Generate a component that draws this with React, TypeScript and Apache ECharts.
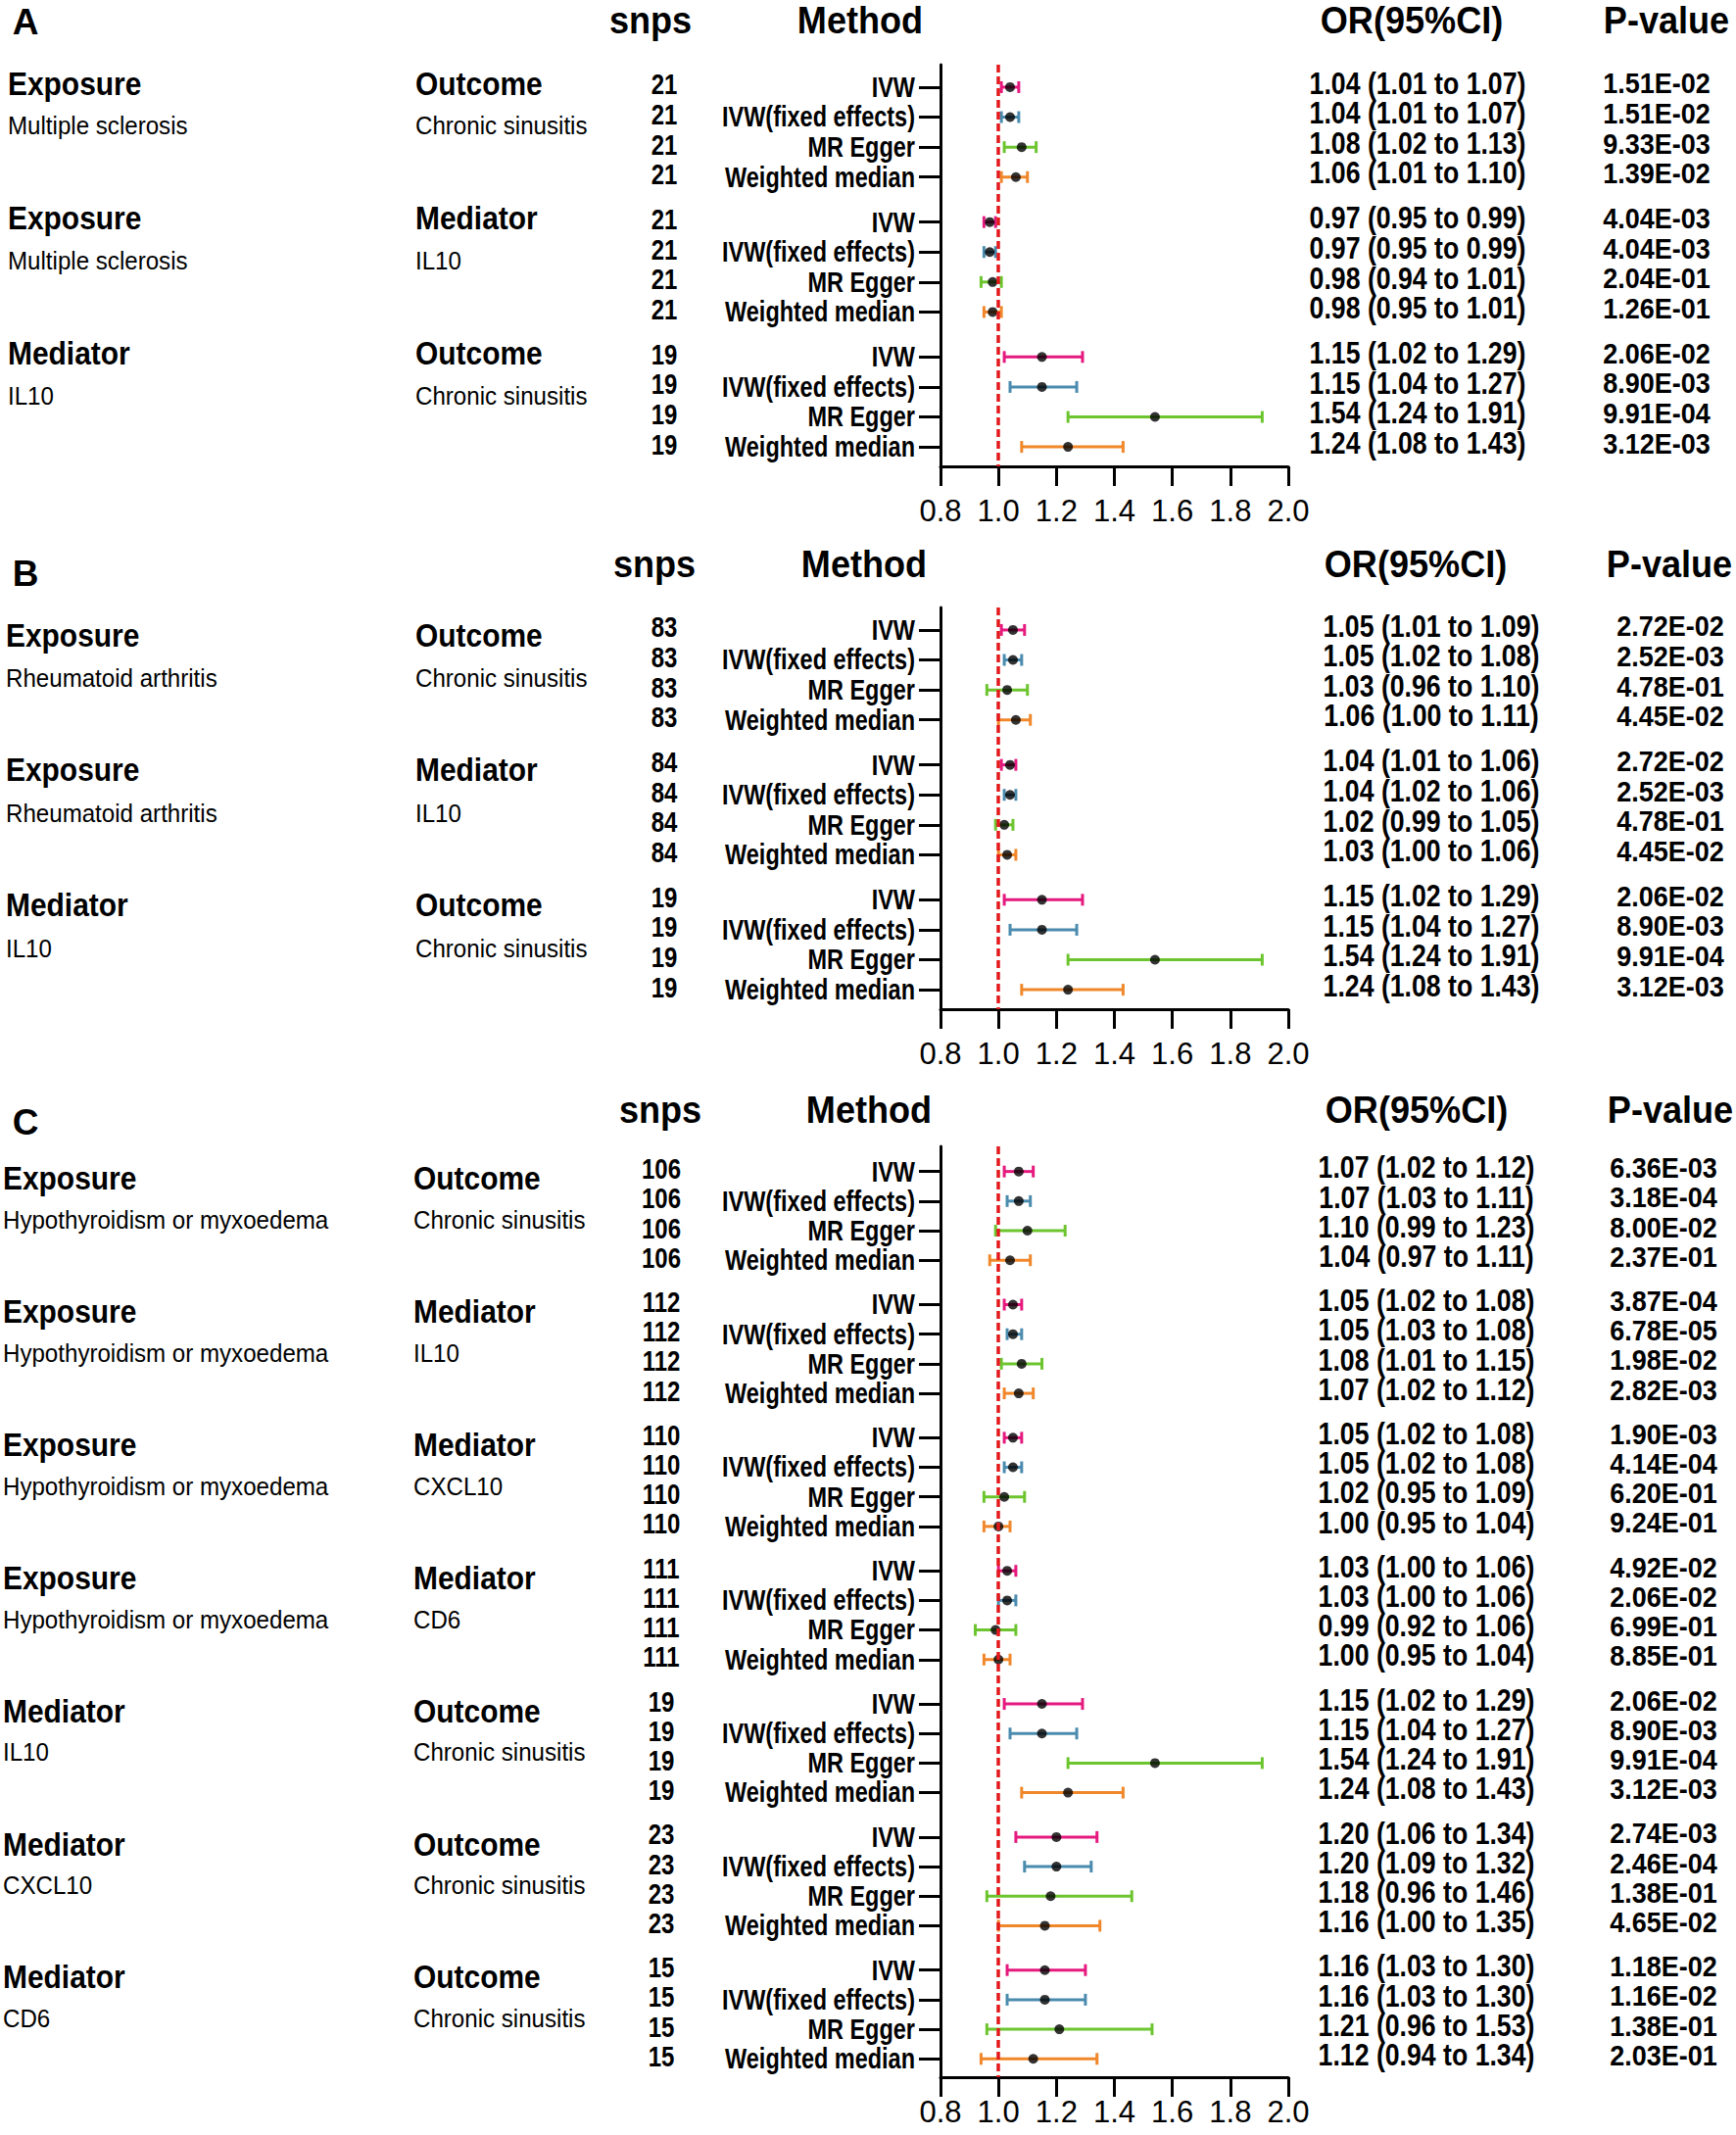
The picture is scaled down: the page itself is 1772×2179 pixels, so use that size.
import React, { useEffect, useRef } from "react";
import * as echarts from "echarts";

// ---------- data ----------
const methods = ["IVW", "IVW(fixed effects)", "MR Egger", "Weighted median"];
const methodColors = ["#E5197E", "#4A8BAE", "#6CC52E", "#F0872A"];
const headerTexts = ["snps", "Method", "OR(95%CI)", "P-value"];
const xMin = 0.8;
const xMax = 2.0;
const xStep = 0.2;

// Panel A
const aPairs = [
  ["Exposure", "Multiple sclerosis", "Outcome", "Chronic sinusitis"],
  ["Exposure", "Multiple sclerosis", "Mediator", "IL10"],
  ["Mediator", "IL10", "Outcome", "Chronic sinusitis"],
];
const aSnps = [21, 21, 19];
const aOR = [[1.04, 1.04, 1.08, 1.06], [0.97, 0.97, 0.98, 0.98], [1.15, 1.15, 1.54, 1.24]];
const aLow = [[1.01, 1.01, 1.02, 1.01], [0.95, 0.95, 0.94, 0.95], [1.02, 1.04, 1.24, 1.08]];
const aHigh = [[1.07, 1.07, 1.13, 1.10], [0.99, 0.99, 1.01, 1.01], [1.29, 1.27, 1.91, 1.43]];
const aP = [
  ["1.51E-02", "1.51E-02", "9.33E-03", "1.39E-02"],
  ["4.04E-03", "4.04E-03", "2.04E-01", "1.26E-01"],
  ["2.06E-02", "8.90E-03", "9.91E-04", "3.12E-03"],
];

// Panel B
const bPairs = [
  ["Exposure", "Rheumatoid arthritis", "Outcome", "Chronic sinusitis"],
  ["Exposure", "Rheumatoid arthritis", "Mediator", "IL10"],
  ["Mediator", "IL10", "Outcome", "Chronic sinusitis"],
];
const bSnps = [83, 84, 19];
const bOR = [[1.05, 1.05, 1.03, 1.06], [1.04, 1.04, 1.02, 1.03], [1.15, 1.15, 1.54, 1.24]];
const bLow = [[1.01, 1.02, 0.96, 1.00], [1.01, 1.02, 0.99, 1.00], [1.02, 1.04, 1.24, 1.08]];
const bHigh = [[1.09, 1.08, 1.10, 1.11], [1.06, 1.06, 1.05, 1.06], [1.29, 1.27, 1.91, 1.43]];
const bP = [
  ["2.72E-02", "2.52E-03", "4.78E-01", "4.45E-02"],
  ["2.72E-02", "2.52E-03", "4.78E-01", "4.45E-02"],
  ["2.06E-02", "8.90E-03", "9.91E-04", "3.12E-03"],
];

// Panel C
const cPairs = [
  ["Exposure", "Hypothyroidism or myxoedema", "Outcome", "Chronic sinusitis"],
  ["Exposure", "Hypothyroidism or myxoedema", "Mediator", "IL10"],
  ["Exposure", "Hypothyroidism or myxoedema", "Mediator", "CXCL10"],
  ["Exposure", "Hypothyroidism or myxoedema", "Mediator", "CD6"],
  ["Mediator", "IL10", "Outcome", "Chronic sinusitis"],
  ["Mediator", "CXCL10", "Outcome", "Chronic sinusitis"],
  ["Mediator", "CD6", "Outcome", "Chronic sinusitis"],
];
const cSnps = [106, 112, 110, 111, 19, 23, 15];
const cOR = [
  [1.07, 1.07, 1.10, 1.04], [1.05, 1.05, 1.08, 1.07], [1.05, 1.05, 1.02, 1.00], [1.03, 1.03, 0.99, 1.00],
  [1.15, 1.15, 1.54, 1.24], [1.20, 1.20, 1.18, 1.16], [1.16, 1.16, 1.21, 1.12],
];
const cLow = [
  [1.02, 1.03, 0.99, 0.97], [1.02, 1.03, 1.01, 1.02], [1.02, 1.02, 0.95, 0.95], [1.00, 1.00, 0.92, 0.95],
  [1.02, 1.04, 1.24, 1.08], [1.06, 1.09, 0.96, 1.00], [1.03, 1.03, 0.96, 0.94],
];
const cHigh = [
  [1.12, 1.11, 1.23, 1.11], [1.08, 1.08, 1.15, 1.12], [1.08, 1.08, 1.09, 1.04], [1.06, 1.06, 1.06, 1.04],
  [1.29, 1.27, 1.91, 1.43], [1.34, 1.32, 1.46, 1.35], [1.30, 1.30, 1.53, 1.34],
];
const cP = [
  ["6.36E-03", "3.18E-04", "8.00E-02", "2.37E-01"],
  ["3.87E-04", "6.78E-05", "1.98E-02", "2.82E-03"],
  ["1.90E-03", "4.14E-04", "6.20E-01", "9.24E-01"],
  ["4.92E-02", "2.06E-02", "6.99E-01", "8.85E-01"],
  ["2.06E-02", "8.90E-03", "9.91E-04", "3.12E-03"],
  ["2.74E-03", "2.46E-04", "1.38E-01", "4.65E-02"],
  ["1.18E-02", "1.16E-02", "1.38E-01", "2.03E-01"],
];

// ---------- layout ----------
const FONT = "'Liberation Sans', Arial, Helvetica, sans-serif";
const GROUP_STEP = 4.5;

const panels = [
  {
    letter: "A", pairs: aPairs, snps: aSnps, or: aOR, lo: aLow, hi: aHigh, p: aP,
    top: 66, height: 410, yMin: -0.75, yMax: 12.65, labelMargin: 30,
    headY: 21, letterY: 22, heads: [664, 878, 1441, 1701],
    snpsX: 678, orX: 1447, pX: 1691, col1X: 8, col2X: 424, titleDy: -4, nameDy: 39,
  },
  {
    letter: "B", pairs: bPairs, snps: bSnps, or: bOR, lo: bLow, hi: bHigh, p: bP,
    top: 620, height: 410, yMin: -0.75, yMax: 12.65, labelMargin: 30,
    headY: 576, letterY: 585, heads: [668, 882, 1445, 1704],
    snpsX: 678, orX: 1461, pX: 1705, col1X: 6, col2X: 424, titleDy: 5, nameDy: 49,
  },
  {
    letter: "C", pairs: cPairs, snps: cSnps, or: cOR, lo: cLow, hi: cHigh, p: cP,
    top: 1170, height: 950, yMin: -0.85, yMax: 30.62, labelMargin: 20,
    headY: 1133, letterY: 1145, heads: [674, 887, 1446, 1705],
    snpsX: 675, orX: 1456, pX: 1698, col1X: 3, col2X: 422, titleDy: 7, nameDy: 49,
  },
];

function txt(x: number, y: number, text: string, size: number, bold: boolean, sx: number, align: string) {
  return {
    type: "text",
    x,
    y,
    scaleX: sx,
    silent: true,
    style: {
      text,
      fill: "#000",
      fontSize: size,
      fontWeight: bold ? "bold" : "normal",
      fontFamily: FONT,
      align,
      verticalAlign: "middle",
      textAlign: align,
      textVerticalAlign: "middle",
    },
  };
}

function buildOption() {
  const grids: any[] = [];
  const xAxes: any[] = [];
  const yAxes: any[] = [];
  const series: any[] = [];
  const graphics: any[] = [];

  panels.forEach((pn, pi) => {
    grids.push({ left: 960, width: 355, top: pn.top, height: pn.height, containLabel: false });
    const rows: number[] = [];
    pn.or.forEach((_g, g) => methods.forEach((_m, r) => rows.push(g * GROUP_STEP + r)));

    xAxes.push({
      type: "value", gridIndex: pi, min: xMin, max: xMax, interval: xStep,
      axisLine: { show: true, onZero: false, lineStyle: { color: "#000", width: 3 } },
      axisTick: { show: true, length: 20, lineStyle: { color: "#000", width: 3 } },
      axisLabel: {
        show: true, margin: pn.labelMargin, color: "#000", fontSize: 31, fontFamily: FONT,
        formatter: (v: number) => v.toFixed(1),
      },
      splitLine: { show: false },
    });
    yAxes.push({
      type: "value", gridIndex: pi, inverse: true, min: pn.yMin, max: pn.yMax,
      axisLine: { show: true, onZero: false, lineStyle: { color: "#000", width: 3 } },
      axisTick: { show: true, length: 22, customValues: rows, lineStyle: { color: "#000", width: 3 } },
      axisLabel: { show: false },
      splitLine: { show: false },
    });

    const barData: any[] = [];
    const dotData: any[] = [];
    const textData: any[] = [];
    pn.or.forEach((grp, g) => {
      grp.forEach((v, r) => {
        const y = g * GROUP_STEP + r;
        barData.push([v, y, pn.lo[g][r], pn.hi[g][r], r]);
        dotData.push([v, y]);
        textData.push([xMin, y, g, r]);
      });
    });
    const groupData = pn.pairs.map((_p, g) => [xMin, g * GROUP_STEP, g]);

    series.push({
      type: "custom", xAxisIndex: pi, yAxisIndex: pi, z: 2, silent: true,
      encode: { x: 0, y: 1 },
      data: barData,
      renderItem: (_params: any, api: any) => {
        const y = api.value(1);
        const p1 = api.coord([api.value(2), y]);
        const p2 = api.coord([api.value(3), y]);
        const c = methodColors[api.value(4)];
        const st = { stroke: c, lineWidth: 3 };
        return {
          type: "group",
          children: [
            { type: "line", shape: { x1: p1[0], y1: p1[1], x2: p2[0], y2: p2[1] }, style: st },
            { type: "line", shape: { x1: p1[0], y1: p1[1] - 6, x2: p1[0], y2: p1[1] + 6 }, style: st },
            { type: "line", shape: { x1: p2[0], y1: p2[1] - 6, x2: p2[0], y2: p2[1] + 6 }, style: st },
          ],
        };
      },
    });

    series.push({
      type: "scatter", xAxisIndex: pi, yAxisIndex: pi, z: 4, silent: true,
      symbol: "circle", symbolSize: 10, itemStyle: { color: "#000" },
      data: dotData,
      markLine: {
        silent: true, symbol: "none", label: { show: false },
        lineStyle: { color: "#E3191C", type: [8, 4], width: 3.5 },
        data: [{ xAxis: 1 }],
      },
    });

    series.push({
      type: "custom", xAxisIndex: pi, yAxisIndex: pi, z: 5, silent: true,
      encode: { x: 0, y: 1 },
      data: textData,
      renderItem: (_params: any, api: any) => {
        const g = api.value(2);
        const r = api.value(3);
        const py = api.coord([xMin, api.value(1)])[1];
        const orStr = `${pn.or[g][r].toFixed(2)} (${pn.lo[g][r].toFixed(2)} to ${pn.hi[g][r].toFixed(2)})`;
        return {
          type: "group",
          children: [
            txt(pn.snpsX, py - 3, String(pn.snps[g]), 30, true, 0.8, "center"),
            txt(934, py, methods[r], 29, true, 0.81, "right"),
            txt(pn.orX, py - 4, orStr, 31, true, 0.86, "center"),
            txt(pn.pX, py - 4, pn.p[g][r], 30, true, 0.9, "center"),
          ],
        };
      },
    });

    series.push({
      type: "custom", xAxisIndex: pi, yAxisIndex: pi, z: 5, silent: true,
      encode: { x: 0, y: 1 },
      data: groupData,
      renderItem: (_params: any, api: any) => {
        const g = api.value(2);
        const py = api.coord([xMin, api.value(1)])[1];
        const pr = pn.pairs[g];
        return {
          type: "group",
          children: [
            txt(pn.col1X, py + pn.titleDy, pr[0], 34, true, 0.88, "left"),
            txt(pn.col1X, py + pn.nameDy, pr[1], 26.5, false, 0.91, "left"),
            txt(pn.col2X, py + pn.titleDy, pr[2], 34, true, 0.88, "left"),
            txt(pn.col2X, py + pn.nameDy, pr[3], 26.5, false, 0.91, "left"),
          ],
        };
      },
    });

    graphics.push(txt(26, pn.letterY, pn.letter, 37, true, 1, "center"));
    headerTexts.forEach((h, i) => graphics.push(txt(pn.heads[i], pn.headY, h, 38, true, 0.95, "center")));
  });

  return {
    animation: false,
    backgroundColor: "#ffffff",
    grid: grids,
    xAxis: xAxes,
    yAxis: yAxes,
    series,
    graphic: { elements: graphics },
  };
}

export default function App() {
  const ref = useRef<HTMLDivElement>(null);
  useEffect(() => {
    if (!ref.current) return;
    const chart = echarts.init(ref.current, undefined, { renderer: "svg" });
    chart.setOption(buildOption() as any);
    return () => chart.dispose();
  }, []);
  return (
    <div
      ref={ref}
      style={{ position: "absolute", left: 0, top: 0, width: 1772, height: 2179, background: "#fff" }}
    />
  );
}
